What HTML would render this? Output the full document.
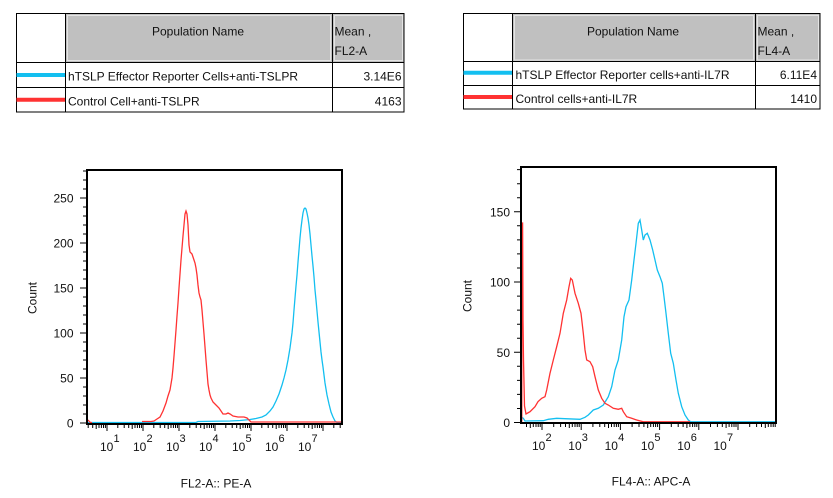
<!DOCTYPE html>
<html><head><meta charset="utf-8"><style>
html,body{margin:0;padding:0;background:#fff;}
svg{display:block;}
text{font-family:"Liberation Sans",Arial,sans-serif;fill:#111;}
</style></head><body>
<svg width="833" height="498" viewBox="0 0 833 498" xmlns="http://www.w3.org/2000/svg">
<rect x="0" y="0" width="833" height="498" fill="#fff"/>

<!-- ===== Left table ===== -->
<rect x="66" y="14" width="266" height="48" fill="#c0c0c0"/>
<rect x="67.5" y="15.5" width="263" height="45" fill="none" stroke="#e4e4e4" stroke-width="1"/>
<rect x="333" y="14" width="71" height="48" fill="#c0c0c0"/>
<rect x="334.5" y="15.5" width="68" height="45" fill="none" stroke="#e4e4e4" stroke-width="1"/>
<rect x="16.5" y="13.5" width="387.5" height="98.5" fill="none" stroke="#000" stroke-width="1"/>
<path d="M65.5 13.5V112M332.5 13.5V112M16.5 62.5H404M16.5 87.5H404" stroke="#000" stroke-width="1" fill="none"/>
<line x1="16.5" y1="75" x2="65" y2="75" stroke="#13bff0" stroke-width="4"/>
<line x1="16.5" y1="99.7" x2="65" y2="99.7" stroke="#ff3232" stroke-width="4"/>
<text x="198" y="35.5" font-size="12" text-anchor="middle">Population Name</text>
<text x="334.5" y="35.5" font-size="12">Mean ,</text>
<text x="334.5" y="55" font-size="12">FL2-A</text>
<text x="68" y="80.3" font-size="12">hTSLP Effector Reporter Cells+anti-TSLPR</text>
<text x="401.5" y="80.3" font-size="12" text-anchor="end">3.14E6</text>
<text x="68" y="105.3" font-size="12">Control Cell+anti-TSLPR</text>
<text x="401.5" y="105.3" font-size="12" text-anchor="end">4163</text>

<!-- ===== Right table ===== -->
<rect x="513" y="14" width="242" height="47.5" fill="#c0c0c0"/>
<rect x="514.5" y="15.5" width="239" height="44.5" fill="none" stroke="#e4e4e4" stroke-width="1"/>
<rect x="756" y="14" width="64" height="47.5" fill="#c0c0c0"/>
<rect x="757.5" y="15.5" width="61" height="44.5" fill="none" stroke="#e4e4e4" stroke-width="1"/>
<rect x="463.5" y="13.5" width="356.5" height="95.5" fill="none" stroke="#000" stroke-width="1"/>
<path d="M512.5 13.5V109M755.5 13.5V109M463.5 61.5H820M463.5 85.5H820" stroke="#000" stroke-width="1" fill="none"/>
<line x1="463.5" y1="72.7" x2="512" y2="72.7" stroke="#13bff0" stroke-width="4"/>
<line x1="463.5" y1="97" x2="512" y2="97" stroke="#ff3232" stroke-width="4"/>
<text x="633" y="35.5" font-size="12" text-anchor="middle">Population Name</text>
<text x="757.5" y="35.5" font-size="12">Mean ,</text>
<text x="757.5" y="55" font-size="12">FL4-A</text>
<text x="515.5" y="78.8" font-size="12">hTSLP Effector Reporter cells+anti-IL7R</text>
<text x="817" y="78.8" font-size="12" text-anchor="end">6.11E4</text>
<text x="515.5" y="103" font-size="12">Control cells+anti-IL7R</text>
<text x="817" y="103" font-size="12" text-anchor="end">1410</text>

<!-- ===== Left plot ===== -->
<polyline fill="none" stroke="#13bff0" stroke-width="1.3" points="87,422.5 196,422.5 198,421.5 230,421 240,420.5 250,419.5 256,418.5 262,417 266,415 270,411 273,407 276,401 279,394 282,385 284,378 286,370 288,360 290,348 292,333 293,323 294,310 295,298 296,286 297,275 298,262 299,250 300,238 301,228 302,220 303,213 304,209 305,208 306,209 307,213 308,218 309,225 310,234 311,245 312,256 313,266 314,277 315,290 316,300 317,311 318,322 319,332 320,342 321,352 322,360 323,367 324,375 325,383 327,395 329,404 331,412 333,417 335,421 337,422.5 342,422.5"/>
<polyline fill="none" stroke="#ff3232" stroke-width="1.3" points="87.5,420 88.5,420.5 90,422.3 92,422.8"/>
<polyline fill="none" stroke="#ff3232" stroke-width="1.3" points="142,421.5 151,421.5 154,421 157,419 160,417 163,411 166,403 168,396 170,390 172,378 173,368 174,356 175,343 176,330 177,316 178,303 179,288 180,274 181,260 182,248 183,236 184,225 185,214 186,211 187,214 188,225 189,245 190,252 192,254 193,257 195,263 196,268 197,275 198,285 199,293 200,297 201,300 202,310 203,322 204,334 205,347 206,360 207,372 208,384 209,390 210,395 211,398 213,402 216,405 219,408 221,411 223,414 226,414 228,413 230,414 233,416 238,417 244,417 247,418 249,420 251,422 342,422"/>
<rect x="87" y="170" width="255" height="254" fill="none" stroke="#000" stroke-width="2"/>
<!-- y ticks -->
<path d="M80 423H86M80 378H86M80 333H86M80 288H86M80 243H86M80 198H86" stroke="#000" stroke-width="1"/>
<path d="M83 414H86M83 405H86M83 396H86M83 387H86M83 369H86M83 360H86M83 351H86M83 342H86M83 324H86M83 315H86M83 306H86M83 297H86M83 279H86M83 270H86M83 261H86M83 252H86M83 234H86M83 225H86M83 216H86M83 207H86M83 189H86M83 180H86M83 171H86" stroke="#000" stroke-width="1"/>
<g font-size="12" text-anchor="end">
<text x="73.5" y="427.5">0</text>
<text x="73.5" y="382.5">50</text>
<text x="73.5" y="337.5">100</text>
<text x="73.5" y="292.5">150</text>
<text x="73.5" y="247.5">200</text>
<text x="73.5" y="202.5">250</text>
</g>
<!-- x ticks -->
<path d="M107 425v6M143 425v6M179 425v6M215 425v6M251 425v6M287 425v6M323 425v6" stroke="#000" stroke-width="1"/>
<path d="M88.2 425v3M92.7 425v3M96.2 425v4M99 425v3M101.4 425v3M103.5 425v3M105.4 425v3M117.8 425v3M124.2 425v3M128.7 425v3M132.2 425v4M135 425v3M137.4 425v3M139.5 425v3M141.4 425v3M153.8 425v3M160.2 425v3M164.7 425v3M168.2 425v4M171 425v3M173.4 425v3M175.5 425v3M177.4 425v3M189.8 425v3M196.2 425v3M200.7 425v3M204.2 425v4M207 425v3M209.4 425v3M211.5 425v3M213.4 425v3M225.8 425v3M232.2 425v3M236.7 425v3M240.2 425v4M243 425v3M245.4 425v3M247.5 425v3M249.4 425v3M261.8 425v3M268.2 425v3M272.7 425v3M276.2 425v4M279 425v3M281.4 425v3M283.5 425v3M285.4 425v3M297.8 425v3M304.2 425v3M308.7 425v3M312.2 425v4M315 425v3M317.4 425v3M319.5 425v3M321.4 425v3M333.8 425v3M340.2 425v3" stroke="#000" stroke-width="1"/>
<g font-size="12">
<text x="100" y="451">10</text><text x="113.5" y="442" font-size="11">1</text>
<text x="133" y="451">10</text><text x="146.5" y="442" font-size="11">2</text>
<text x="166" y="451">10</text><text x="179.5" y="442" font-size="11">3</text>
<text x="199" y="451">10</text><text x="212.5" y="442" font-size="11">4</text>
<text x="232" y="451">10</text><text x="245.5" y="442" font-size="11">5</text>
<text x="265" y="451">10</text><text x="278.5" y="442" font-size="11">6</text>
<text x="298" y="451">10</text><text x="311.5" y="442" font-size="11">7</text>
</g>
<text transform="translate(36.5,298) rotate(-90)" font-size="12" text-anchor="middle">Count</text>
<text x="216" y="487.5" font-size="12" text-anchor="middle">FL2-A:: PE-A</text>

<!-- ===== Right plot ===== -->
<polyline fill="none" stroke="#13bff0" stroke-width="1.3" points="521,416.7 523.3,418.3 525,421 543.3,420.7 548.3,419.3 556.7,418.3 565,418.7 580,419.3 585,417.3 588.3,415 593.3,410 598.3,408.3 603.3,405 608.3,396.7 611.7,386.7 615,370 618.3,360 621.7,340 624,316.7 626,306.7 629,300 631.7,280 634,260 636,243.3 638.3,223.3 640,220 641.7,230 643.3,240 645,235 647.3,233.3 650,240 652.7,250 655,260 657.3,270 660,276.7 662.3,283.3 664,296.7 666,313.3 668.3,333.3 670.7,353.3 673.3,363.3 676,380 678.3,393.3 681.7,406.7 685,415 688.3,420 690.7,421.8 776,421.8"/>
<polyline fill="none" stroke="#ff3232" stroke-width="1.3" points="521.8,421.8 521.8,223 522.6,223 523,320 523.5,360 524.5,406 526,414 530,411.7 535,406.7 538,401.7 541.7,398.3 545,396.7 546.7,390 550,373.3 553.3,360 556.7,346.7 560,333.3 563.3,313.3 566.7,300 569,286.7 570.7,278.3 572.3,280 575,293.3 578.3,303.3 581,313.3 583.3,333.3 585,350 586.7,360 590,361.7 592.7,366.7 595,376.7 598.3,390 601.7,398.3 605,403.3 608.3,405 613.3,408.3 618.3,409.3 621.7,408.3 623.3,411.7 626.7,416.7 631.7,418.3 636.7,420 643.3,421.8 690,421.8"/>
<rect x="521" y="167" width="255" height="256" fill="none" stroke="#000" stroke-width="2"/>
<!-- y ticks -->
<path d="M514 422.5H520M514 352.3H520M514 282H520M514 211.8H520" stroke="#000" stroke-width="1"/>
<path d="M517 408.5H520M517 394.4H520M517 380.4H520M517 366.3H520M517 338.2H520M517 324.2H520M517 310.1H520M517 296.1H520M517 268H520M517 253.9H520M517 239.9H520M517 225.8H520M517 197.7H520M517 183.7H520M517 169.6H520" stroke="#000" stroke-width="1"/>
<g font-size="12" text-anchor="end">
<text x="510" y="427">0</text>
<text x="510" y="356.8">50</text>
<text x="510" y="286.5">100</text>
<text x="510" y="216.3">150</text>
</g>
<!-- x ticks -->
<path d="M542 424v6M581.2 424v6M620.4 424v6M659.6 424v6M698.8 424v6M738 424v6" stroke="#000" stroke-width="1"/>
<path d="M526.5 424v3M530.3 424v4M533.3 424v3M536 424v3M538.2 424v3M540.2 424v3M553.7 424v3M560.6 424v3M565.5 424v3M569.3 424v4M572.3 424v3M575 424v3M577.2 424v3M579.2 424v3M592.9 424v3M599.8 424v3M604.7 424v3M608.5 424v4M611.5 424v3M614.2 424v3M616.4 424v3M618.4 424v3M632.1 424v3M639 424v3M643.9 424v3M647.7 424v4M650.7 424v3M653.4 424v3M655.6 424v3M657.6 424v3M671.3 424v3M678.2 424v3M683.1 424v3M686.9 424v4M689.9 424v3M692.6 424v3M694.8 424v3M696.8 424v3M710.5 424v3M717.4 424v3M722.3 424v3M726.1 424v4M729.1 424v3M731.8 424v3M734 424v3M736 424v3M749.7 424v3M756.6 424v3M761.5 424v3M765.3 424v4M768.3 424v3M771 424v3M773.2 424v3M775.2 424v3" stroke="#000" stroke-width="1"/>
<g font-size="12">
<text x="532" y="450">10</text><text x="545.5" y="441" font-size="11">2</text>
<text x="568.3" y="450">10</text><text x="581.8" y="441" font-size="11">3</text>
<text x="604.6" y="450">10</text><text x="618.1" y="441" font-size="11">4</text>
<text x="640.9" y="450">10</text><text x="654.4" y="441" font-size="11">5</text>
<text x="677.2" y="450">10</text><text x="690.7" y="441" font-size="11">6</text>
<text x="713.5" y="450">10</text><text x="727" y="441" font-size="11">7</text>
</g>
<text transform="translate(471.5,296) rotate(-90)" font-size="12" text-anchor="middle">Count</text>
<text x="651" y="485.5" font-size="12" text-anchor="middle">FL4-A:: APC-A</text>
</svg>
</body></html>
